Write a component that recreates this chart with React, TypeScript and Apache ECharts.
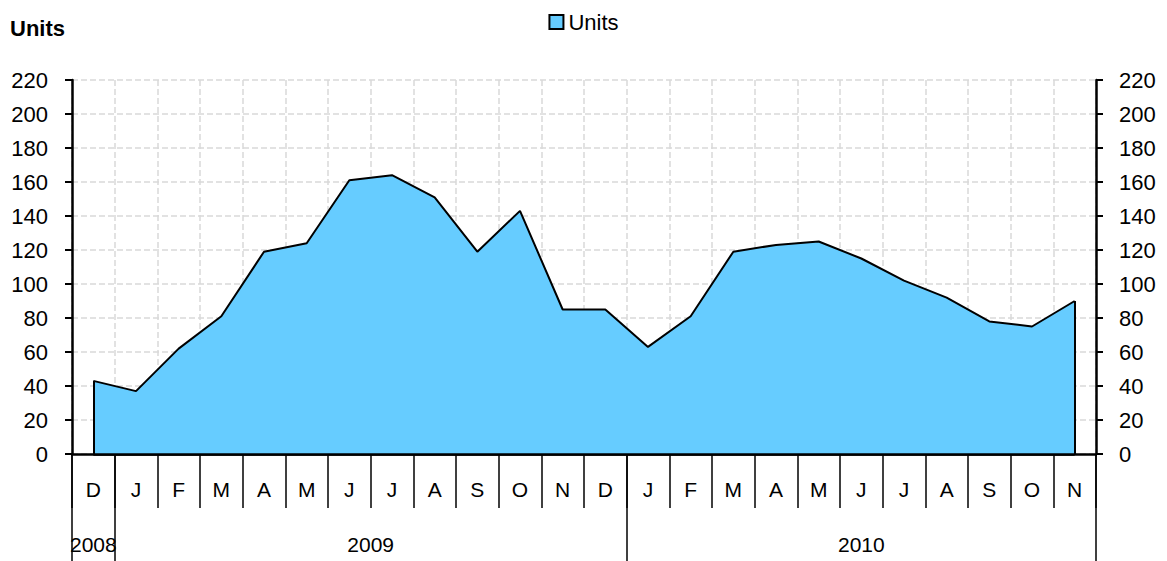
import React, { useEffect, useRef } from "react";
import * as echarts from "echarts";

const months = ["D", "J", "F", "M", "A", "M", "J", "J", "A", "S", "O", "N", "D", "J", "F", "M", "A", "M", "J", "J", "A", "S", "O", "N"];
const units = [43, 37, 62, 81, 119, 124, 161, 164, 151, 119, 143, 85, 85, 63, 81, 119, 123, 125, 115, 102, 92, 78, 75, 90];
const years = ["2008", "2009", "2010"];
const yearCounts = [1, 12, 11];
const yTicks = [0, 20, 40, 60, 80, 100, 120, 140, 160, 180, 200, 220];

const FONT = "'Liberation Sans', Arial, sans-serif";
const FILL = "#66CCFF";
const GRID = "#d9d9d9";

export default function App() {
  const ref = useRef<HTMLDivElement>(null);
  useEffect(() => {
    if (!ref.current) return;
    const chart = echarts.init(ref.current, null, { renderer: "svg" });

    // year group boundaries and centres derived from the counts
    const bounds: number[] = [-0.5];
    const centers: number[] = [];
    let start = 0;
    yearCounts.forEach((c) => {
      centers.push(start + (c - 1) / 2);
      start += c;
      bounds.push(start - 0.5);
    });
    const yearAt = (v: number) => {
      const i = centers.findIndex((c) => Math.abs(c - v) < 1e-6);
      return i >= 0 ? years[i] : "";
    };
    const last = units.length - 1;

    chart.setOption({
      animation: false,
      textStyle: { fontFamily: FONT },
      title: {
        text: "Units",
        left: 5,
        top: 12,
        textStyle: { fontFamily: FONT, fontWeight: "bold", fontSize: 22, color: "#000" },
      },
      legend: {
        top: 6,
        left: "center",
        data: [{ name: "Units", icon: "rect" }],
        itemWidth: 14,
        itemHeight: 14,
        itemStyle: { color: FILL, borderColor: "#000", borderWidth: 2 },
        textStyle: { fontFamily: FONT, fontSize: 22, color: "#000", padding: [0, 0, 0, 0] },
      },
      grid: { left: 72, right: 71, top: 80, bottom: 107, containLabel: false },
      xAxis: [
        {
          type: "category",
          data: months,
          boundaryGap: true,
          position: "bottom",
          axisLine: { show: true, onZero: false, lineStyle: { color: "#000", width: 2.5 } },
          axisTick: { show: true, interval: 0, length: 54, lineStyle: { color: "#000", width: 1.5 } },
          axisLabel: { interval: 0, margin: 25, fontFamily: FONT, fontSize: 21, color: "#000" },
          splitLine: { show: true, interval: 0, lineStyle: { color: GRID, width: 1.5, type: [6, 3] } },
        },
        {
          type: "value",
          min: -0.5,
          max: units.length - 0.5,
          position: "bottom",
          axisLine: { show: false, onZero: false },
          axisTick: {
            show: true,
            customValues: bounds,
            length: 107,
            lineStyle: { color: "#000", width: 1.5 },
          },
          axisLabel: {
            show: true,
            customValues: centers,
            formatter: (v: number) => yearAt(v),
            margin: 80,
            fontFamily: FONT,
            fontSize: 21,
            color: "#000",
          },
          splitLine: { show: false },
        },
      ],
      yAxis: [
        {
          type: "value",
          min: yTicks[0],
          max: yTicks[yTicks.length - 1],
          interval: 20,
          position: "left",
          axisLine: { show: true, onZero: false, lineStyle: { color: "#000", width: 2.5 } },
          axisTick: { show: true, length: 7, lineStyle: { color: "#000", width: 2 } },
          axisLabel: { margin: 24, fontFamily: FONT, fontSize: 22, color: "#000" },
          splitLine: { show: true, lineStyle: { color: GRID, width: 1.5, type: [6, 3] } },
        },
        {
          type: "value",
          min: yTicks[0],
          max: yTicks[yTicks.length - 1],
          interval: 20,
          position: "right",
          axisLine: { show: true, onZero: false, lineStyle: { color: "#000", width: 2.5 } },
          axisTick: { show: true, length: 7, lineStyle: { color: "#000", width: 2 } },
          axisLabel: { margin: 23, fontFamily: FONT, fontSize: 22, color: "#000" },
          splitLine: { show: false },
        },
      ],
      series: [
        {
          name: "Units",
          type: "line",
          data: units,
          xAxisIndex: 0,
          yAxisIndex: 0,
          symbol: "none",
          lineStyle: { color: "#000", width: 2 },
          itemStyle: { color: FILL },
          areaStyle: { color: FILL, opacity: 1 },
          markLine: {
            silent: true,
            symbol: ["none", "none"],
            label: { show: false },
            lineStyle: { color: "#000", width: 2, type: "solid" },
            data: [
              [{ coord: [0, 0] }, { coord: [0, units[0]] }],
              [{ coord: [last, 0] }, { coord: [last, units[last]] }],
              [{ coord: [0, 0], lineStyle: { width: 2.5 } }, { coord: [last, 0] }],
            ],
          },
          z: 3,
        },
      ],
    });
    return () => chart.dispose();
  }, []);
  return (
    <div
      ref={ref}
      style={{ position: "absolute", left: 0, top: 0, width: 1167, height: 561, background: "#fff" }}
    />
  );
}
